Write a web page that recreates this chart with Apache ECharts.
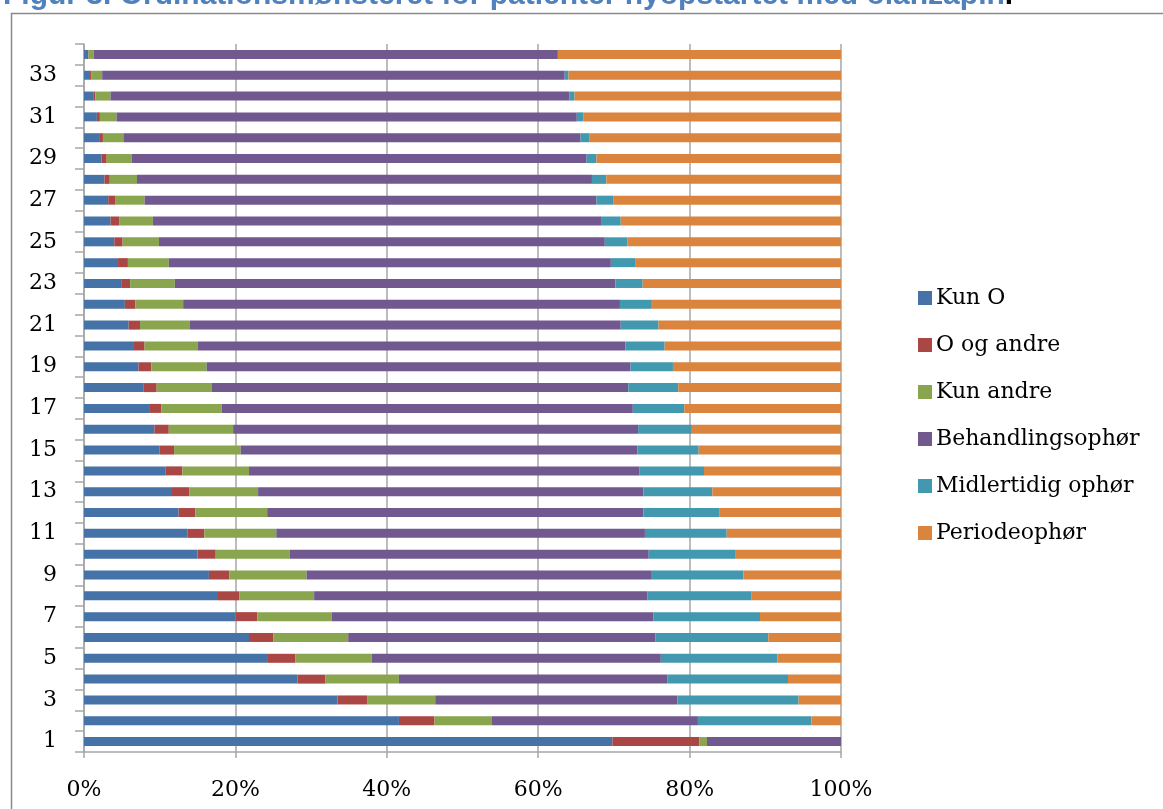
<!DOCTYPE html>
<html>
<head>
<meta charset="utf-8">
<script src="https://cdn.jsdelivr.net/npm/echarts@6/dist/echarts.min.js"></script>
<style>
html,body{margin:0;padding:0;background:#fff;}
#chart{width:1163px;height:809px;}
</style>
</head>
<body>
<div id="chart"></div>
<script>
const categories = ['1','2','3','4','5','6','7','8','9','10','11','12','13','14','15','16','17','18','19','20','21','22','23','24','25','26','27','28','29','30','31','32','33','34'];
const seriesNames = ['Kun O','O og andre','Kun andre','Behandlingsophør','Midlertidig ophør','Periodeophør'];
const kunO = [69.8, 41.6, 33.5, 28.2, 24.3, 21.8, 20.0, 17.7, 16.5, 15.0, 13.7, 12.5, 11.5, 10.8, 10.0, 9.3, 8.6, 7.9, 7.2, 6.6, 5.9, 5.4, 5.0, 4.5, 4.0, 3.5, 3.2, 2.7, 2.3, 2.0, 1.7, 1.3, 0.8, 0.4];
const oOgAndre = [11.5, 4.7, 3.9, 3.7, 3.6, 3.2, 2.9, 2.8, 2.7, 2.4, 2.2, 2.2, 2.4, 2.2, 1.9, 1.9, 1.6, 1.7, 1.7, 1.4, 1.5, 1.4, 1.1, 1.3, 1.1, 1.2, 0.9, 0.7, 0.7, 0.5, 0.4, 0.2, 0.2, 0.2];
const kunAndre = [1.0, 7.6, 9.0, 9.7, 10.1, 9.9, 9.8, 9.9, 10.2, 9.8, 9.5, 9.5, 9.1, 8.8, 8.8, 8.5, 8.0, 7.3, 7.3, 7.0, 6.6, 6.3, 5.9, 5.4, 4.8, 4.4, 3.9, 3.6, 3.3, 2.7, 2.2, 2.0, 1.4, 0.7];
const behandlingsophor = [17.7, 27.2, 32.0, 35.5, 38.2, 40.6, 42.5, 44.0, 45.5, 47.4, 48.7, 49.7, 50.9, 51.6, 52.4, 53.5, 54.3, 55.0, 56.0, 56.5, 56.9, 57.7, 58.2, 58.4, 58.9, 59.3, 59.7, 60.1, 60.1, 60.4, 60.8, 60.6, 61.1, 61.3];
const midlertidigOphor = [0, 15.0, 16.0, 15.9, 15.4, 14.9, 14.1, 13.8, 12.2, 11.5, 10.8, 10.0, 9.1, 8.5, 8.1, 7.1, 6.8, 6.6, 5.6, 5.2, 5.0, 4.1, 3.6, 3.2, 3.0, 2.5, 2.2, 1.9, 1.3, 1.2, 0.9, 0.7, 0.5, 0];
const periodeophor = [0, 3.9, 5.6, 7.0, 8.4, 9.6, 10.7, 11.8, 12.9, 13.9, 15.1, 16.1, 17.0, 18.1, 18.8, 19.7, 20.7, 21.5, 22.2, 23.3, 24.1, 25.1, 26.2, 27.2, 28.2, 29.1, 30.1, 31.0, 32.3, 33.2, 34.0, 35.2, 36.0, 37.4];
const xTicks = [0, 20, 40, 60, 80, 100];
const titleText = 'Figur 3. Ordinationsmønsteret for patienter nyopstartet med olanzapin';

const colors = ['#4572A7','#AA4643','#89A54E','#71588F','#4198AF','#DB843D'];
const allData = [kunO, oOgAndre, kunAndre, behandlingsophor, midlertidigOphor, periodeophor];
const serifFont = '"DejaVu Serif", "Liberation Serif", serif';
const axisFont = '"DejaVu Serif", "Liberation Serif", serif';

const chart = echarts.init(document.getElementById('chart'), null, {renderer:'canvas'});
chart.setOption({
  animation: false,
  color: colors,
  graphic: [
    { type:'rect', shape:{x:11.5, y:13.5, width:1300, height:1000}, style:{fill:'none', stroke:'#8a8a8a', lineWidth:1.5}, silent:true },
    { type:'text', left:3, top:-19, style:{ text:'{a|' + titleText + '}{b|.}', rich:{ a:{fill:'#4F81BD', fontSize:30, fontWeight:'bold', fontFamily:'"Liberation Sans", Arial, sans-serif'}, b:{fill:'#000', fontSize:30, fontWeight:'bold', fontFamily:'"Liberation Sans", Arial, sans-serif'} } } }
  ],
  legend: {
    orient: 'vertical',
    left: 913,
    top: 282,
    itemWidth: 14,
    itemHeight: 14,
    itemGap: 25,
    icon: 'rect',
    data: seriesNames,
    textStyle: { fontFamily: serifFont, fontSize: 22, color: '#000', padding:[0,0,0,-1] }
  },
  grid: { left: 84, right: 322, top: 44, bottom: 57, containLabel: false },
  xAxis: {
    type: 'value', min: 0, max: 100, interval: 20,
    axisLine: { show: true, lineStyle: { color: '#a6a6a6', width: 1.5 } },
    axisTick: { show: true, length: 6, lineStyle: { color: '#a6a6a6', width: 1.5 } },
    axisLabel: { formatter: v => xTicks.includes(v) ? v + '%' : '', fontFamily: axisFont, fontSize: 22, color: '#000', margin: 27 },
    splitLine: { show: true, lineStyle: { color: '#a6a6a6', width: 1.5 } }
  },
  yAxis: {
    type: 'category', data: categories, boundaryGap: true,
    axisLine: { show: true, lineStyle: { color: '#a6a6a6', width: 1.5 } },
    axisTick: { show: true, interval: 0, length: 9, inside: false, lineStyle: { color: '#a6a6a6', width: 1.5 } },
    axisLabel: { interval: 1, fontFamily: axisFont, fontSize: 22, color: '#000', margin: 27 },
    splitLine: { show: false }
  },
  series: seriesNames.map((name, i) => ({
    name, type: 'bar', stack: 'total', barWidth: 9,
    data: allData[i],
    itemStyle: { color: colors[i] }
  }))
});
</script>
</body>
</html>
